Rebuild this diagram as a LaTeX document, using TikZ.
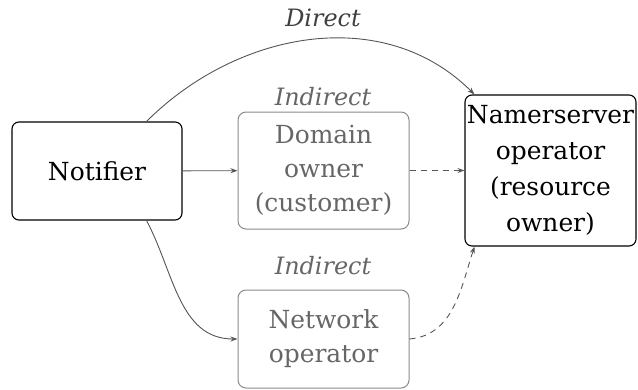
\documentclass[tikz,border=0pt]{standalone}
\usepackage{fontspec}
\setmainfont{DejaVu Serif}
\usetikzlibrary{arrows.meta}
\definecolor{boxgray}{HTML}{8A8A8A}
\definecolor{txtgray}{HTML}{666666}
\definecolor{linegray}{HTML}{555555}
\tikzset{
  mainbox/.style={draw=black, line width=1.1bp, rounded corners=7bp, inner sep=0pt, align=center,
    font=\fontsize{25}{36}\selectfont, text=black},
  graybox/.style={draw=boxgray, line width=1bp, rounded corners=8bp, inner sep=0pt, align=center,
    font=\fontsize{25}{34}\selectfont, text=txtgray},
  lbl/.style={font=\fontsize{24}{30}\selectfont\itshape, inner sep=0pt},
  conn/.style={draw=linegray, line width=0.9bp, -{Stealth[length=7bp,width=5bp]}},
  dconn/.style={conn, dash pattern=on 6bp off 5bp},
}
\begin{document}
\begin{tikzpicture}[x=1bp,y=-1bp]
\useasboundingbox (0,0) rectangle (638,389);
\node[mainbox, minimum width=170bp, minimum height=98bp] (n) at (97,171) {Notifier};
\node[graybox, minimum width=171bp, minimum height=117bp] (d) at (323.5,170.5) {Domain\\owner\\(customer)};
\node[graybox, minimum width=171bp, minimum height=98bp] (o) at (323.5,339) {Network\\operator};
\node[mainbox, minimum width=171bp, minimum height=151bp] (s) at (550.5,170.5) {Namerserver\\operator\\(resource\\owner)};
\node[lbl, text=black!75] (ld) at (323,18) {Direct};
\node[lbl, text=txtgray] (li1) at (323,97) {Indirect};
\node[lbl, text=txtgray] (li2) at (323,266) {Indirect};
\draw[conn] (n.45) to[out=45,in=135] (s.135);
\draw[conn] (n) -- (d);
\draw[dconn] (d) -- (s);
\draw[conn] (n.-45) to[out=-62,in=180] (o.west);
\draw[dconn] (o.east) to[out=5,in=-108] (s.225);
\end{tikzpicture}
\end{document}
